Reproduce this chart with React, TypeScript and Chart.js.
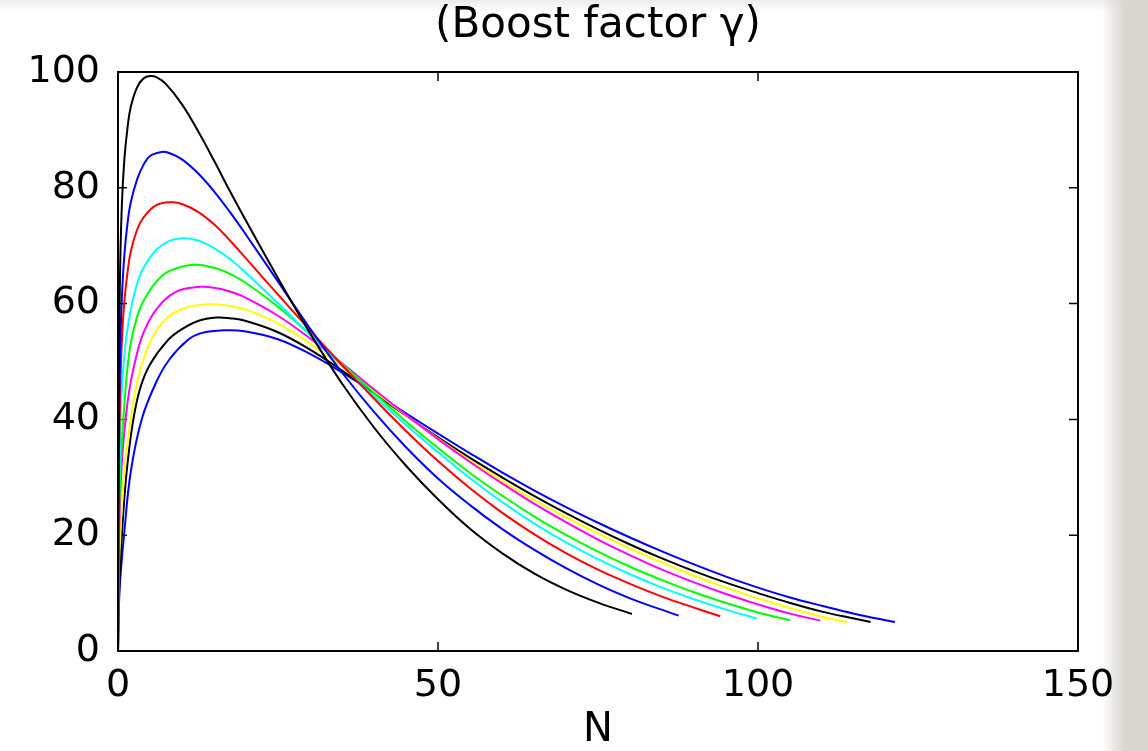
import React, { useEffect, useRef } from "react";
import { Chart, registerables } from "chart.js";

Chart.register(...registerables);

const TITLE = "(Boost factor γ)";
const X_LABEL = "N";
const X_MIN = 0;
const X_MAX = 150;
const X_STEP = 50;
const Y_MIN = 0;
const Y_MAX = 100;
const Y_STEP = 20;

// Curve 1 (black)
const N_K1 = [0, 0.1, 0.3, 0.6, 1, 1.5, 2, 3, 4, 5, 6, 7.5, 10, 12.5, 15, 17.5, 20, 25, 30, 35, 40, 45, 50, 55, 60, 65, 70, 75, 80.3];
const G_K1 = [0, 42, 64, 77, 85, 90.5, 94, 97.4, 98.9, 99.3, 99.1, 97.9, 94.4, 89.8, 84.7, 79.4, 74.3, 64.4, 54.9, 46.2, 38.6, 32.0, 26.2, 21.1, 16.9, 13.4, 10.6, 8.35, 6.4];
// Curve 2 (blue)
const N_B1 = [0, 0.1, 0.3, 0.6, 1, 1.5, 2, 3, 4, 5, 6.8, 8, 10, 12.5, 15, 17.5, 20, 25, 30, 35, 40, 45, 50, 55, 60, 65, 70, 75, 80, 87.6];
const G_B1 = [0, 33, 50, 61, 68.5, 74, 77.5, 81.5, 84, 85.5, 86.2, 86.0, 84.9, 82.5, 79.4, 75.8, 71.9, 63.8, 55.7, 48.1, 41.3, 35.2, 29.8, 25.2, 21.1, 17.5, 14.3, 11.5, 9.1, 6.1];
// Curve 3 (red)
const N_R = [0, 0.1, 0.3, 0.6, 1, 1.5, 2, 3, 4, 6, 8.4, 10, 12.5, 15, 17.5, 20, 25, 30, 35, 40, 45, 50, 55, 60, 65, 70, 75, 80, 85, 90, 94.1];
const G_R = [0, 27, 43, 53.5, 60.5, 65.5, 69, 72.8, 74.9, 77.0, 77.5, 77.2, 75.85, 73.7, 70.9, 67.8, 61.55, 55.4, 49.4, 43.6, 38.0, 32.8, 28.1, 23.9, 20.2, 16.9, 14.05, 11.6, 9.4, 7.5, 6.0];
// Curve 4 (cyan)
const N_C = [0, 0.1, 0.4, 0.7, 1.25, 2, 3, 4, 6, 8, 10.1, 12.5, 15, 17.5, 20, 25, 30, 35, 40, 45, 50, 55, 60, 65, 70, 75, 80, 85, 90, 95, 99.8];
const G_C = [0, 22, 40, 47, 53.7, 59, 63.5, 66.2, 69.3, 70.8, 71.3, 70.9, 69.6, 67.7, 65.3, 60.05, 54.6, 49.2, 44.0, 39.05, 34.35, 29.85, 25.75, 22.05, 18.75, 15.85, 13.25, 10.95, 8.95, 7.15, 5.6];
// Curve 5 (green)
const N_G = [0, 0.1, 0.3, 0.6, 0.83, 1.4, 2, 3, 4, 6, 8, 11.8, 15, 17.5, 20, 25, 30, 35, 40, 45, 50, 55, 60, 65, 70, 75, 80, 85, 90, 95, 100, 105];
const G_G = [0, 18, 29, 36, 40, 48, 53.2, 57.8, 60.5, 63.8, 65.6, 66.7, 66.2, 65.15, 63.55, 59.45, 54.65, 49.6, 44.55, 39.65, 35.05, 30.75, 26.85, 23.25, 20.05, 17.15, 14.55, 12.25, 10.15, 8.3, 6.65, 5.3];
// Curve 6 (magenta)
const N_M = [0, 0.1, 0.3, 0.6, 1, 1.5, 2, 3, 4, 6, 9, 12.9, 15, 17.5, 20, 25, 30, 35, 40, 45, 50, 55, 60, 65, 70, 75, 80, 85, 90, 95, 100, 105, 109.7];
const G_M = [0, 16, 25.5, 32.5, 38, 43, 46.5, 51.5, 55, 59, 62, 62.9, 62.75, 62.1, 61.0, 57.9, 54.0, 49.7, 45.2, 40.8, 36.6, 32.65, 28.95, 25.45, 22.25, 19.25, 16.55, 14.05, 11.85, 9.85, 8.05, 6.45, 5.25];
// Curve 7 (yellow)
const N_Y = [0, 0.1, 0.36, 1, 2, 3, 4.5, 6, 8, 11, 14.4, 17.5, 20, 25, 30, 35, 40, 45, 50, 55, 60, 65, 70, 75, 80, 85, 90, 95, 100, 105, 110, 113.9];
const G_Y = [0, 13, 20, 31, 40, 46.5, 52, 55.3, 57.8, 59.4, 59.9, 59.6, 58.95, 56.55, 53.1, 49.1, 44.9, 40.7, 36.7, 32.9, 29.4, 26.1, 23.1, 20.3, 17.7, 15.25, 13.0, 10.95, 9.1, 7.4, 5.9, 5.0];
// Curve 8 (black)
const N_K2 = [0, 0.2, 0.5, 1, 1.5, 2.4, 3.5, 5, 7.8, 10, 12.5, 15.4, 17.5, 20, 25, 30, 35, 40, 45, 50, 55, 60, 65, 70, 75, 80, 85, 90, 95, 100, 105, 110, 115, 117.6];
const G_K2 = [0, 11, 18, 26.5, 32.5, 40, 45.5, 49.5, 53.7, 55.6, 57, 57.6, 57.47, 57.0, 55.05, 52.05, 48.45, 44.55, 40.65, 36.9, 33.35, 30.0, 26.8, 23.8, 21.0, 18.4, 16.0, 13.8, 11.8, 10.0, 8.3, 6.8, 5.6, 5.0];
// Curve 9 (blue)
const N_B2 = [0, 0.2, 0.5, 0.94, 2, 3.7, 6, 8, 10.9, 13, 16.7, 20, 25, 30, 35, 40, 45, 50, 55, 60, 65, 70, 75, 80, 85, 90, 95, 100, 105, 110, 115, 121.4];
const G_B2 = [0, 9.5, 14.5, 20, 31, 40, 46.5, 50.3, 53.7, 54.9, 55.4, 55.2, 53.85, 51.3, 48.1, 44.6, 41.05, 37.55, 34.15, 30.85, 27.75, 24.85, 22.15, 19.6, 17.2, 14.95, 12.85, 10.95, 9.25, 7.8, 6.45, 5.0];

const SERIES: [number[], number[], string][] = [
  [N_K1, G_K1, "#000000"],
  [N_B1, G_B1, "#0000ff"],
  [N_R, G_R, "#ff0000"],
  [N_C, G_C, "#00ffff"],
  [N_G, G_G, "#00ff00"],
  [N_M, G_M, "#ff00ff"],
  [N_Y, G_Y, "#ffff00"],
  [N_K2, G_K2, "#000000"],
  [N_B2, G_B2, "#0000ff"],
];

const FONT = "'DejaVu Sans', 'Liberation Sans', Arial, sans-serif";

const framePlugin = {
  id: "matlabFrame",
  beforeDatasetsDraw(chart: any) {
    const { ctx, chartArea } = chart;
    const { left, right, top, bottom } = chartArea;
    const xs = chart.scales.x;
    const ys = chart.scales.y;
    const L = 9;
    ctx.save();
    ctx.strokeStyle = "#000";
    ctx.lineWidth = 2;
    ctx.strokeRect(left, top, right - left, bottom - top);
    ctx.lineWidth = 1.5;
    ctx.beginPath();
    xs.ticks.forEach((t: any) => {
      const px = xs.getPixelForValue(t.value);
      ctx.moveTo(px, bottom);
      ctx.lineTo(px, bottom - L);
      ctx.moveTo(px, top);
      ctx.lineTo(px, top + L);
    });
    ys.ticks.forEach((t: any) => {
      const py = ys.getPixelForValue(t.value);
      ctx.moveTo(left, py);
      ctx.lineTo(left + L, py);
      ctx.moveTo(right, py);
      ctx.lineTo(right - L, py);
    });
    ctx.stroke();
    ctx.restore();
  },
};

export default function App() {
  const canvasRef = useRef<HTMLCanvasElement | null>(null);

  useEffect(() => {
    if (!canvasRef.current) return;
    const datasets = SERIES.map(([ns, gs, color]) => ({
      data: ns.map((n, i) => ({ x: n, y: gs[i] })),
      borderColor: color,
      backgroundColor: color,
      borderWidth: 2,
      pointRadius: 0,
      fill: false,
      tension: 0.4,
    }));

    const chart = new Chart(canvasRef.current, {
      type: "line",
      data: { datasets },
      plugins: [framePlugin],
      options: {
        responsive: false,
        animation: false,
        events: [],
        layout: { padding: { left: 0, right: 70, top: 0, bottom: 0 } },
        plugins: {
          legend: { display: false },
          tooltip: { enabled: false },
          title: {
            display: true,
            text: TITLE,
            fullSize: false,
            color: "#000",
            font: { family: FONT, size: 42, weight: "normal", lineHeight: 1 },
            padding: { top: 5, bottom: 25 },
          },
        },
        scales: {
          x: {
            type: "linear",
            min: X_MIN,
            max: X_MAX,
            ticks: {
              stepSize: X_STEP,
              color: "#000",
              font: { family: FONT, size: 38 },
              padding: 12,
              maxRotation: 0,
            },
            grid: { display: false, drawTicks: false },
            border: { display: false },
            title: {
              display: true,
              text: X_LABEL,
              color: "#000",
              font: { family: FONT, size: 40, lineHeight: 1 },
              padding: { top: 0, bottom: 0 },
            },
            afterFit(scale: any) {
              scale.height = 100;
            },
          },
          y: {
            type: "linear",
            min: Y_MIN,
            max: Y_MAX,
            ticks: {
              stepSize: Y_STEP,
              color: "#000",
              font: { family: FONT, size: 38 },
              padding: 18,
            },
            grid: { display: false, drawTicks: false },
            border: { display: false },
            afterFit(scale: any) {
              scale.width = 118;
            },
          },
        },
      },
    });
    return () => chart.destroy();
  }, []);

  return (
    <div
      style={{
        position: "absolute",
        left: 0,
        top: 0,
        width: 1148,
        height: 751,
        overflow: "hidden",
        background:
          "linear-gradient(to right, rgba(218,215,209,0) 0px, rgba(218,215,209,0) 1102px, rgba(218,215,209,1) 1124px), linear-gradient(to bottom, #ececec 0px, #ffffff 12px)",
      }}
    >
      <canvas ref={canvasRef} width={1148} height={751} style={{ display: "block" }} />
    </div>
  );
}
